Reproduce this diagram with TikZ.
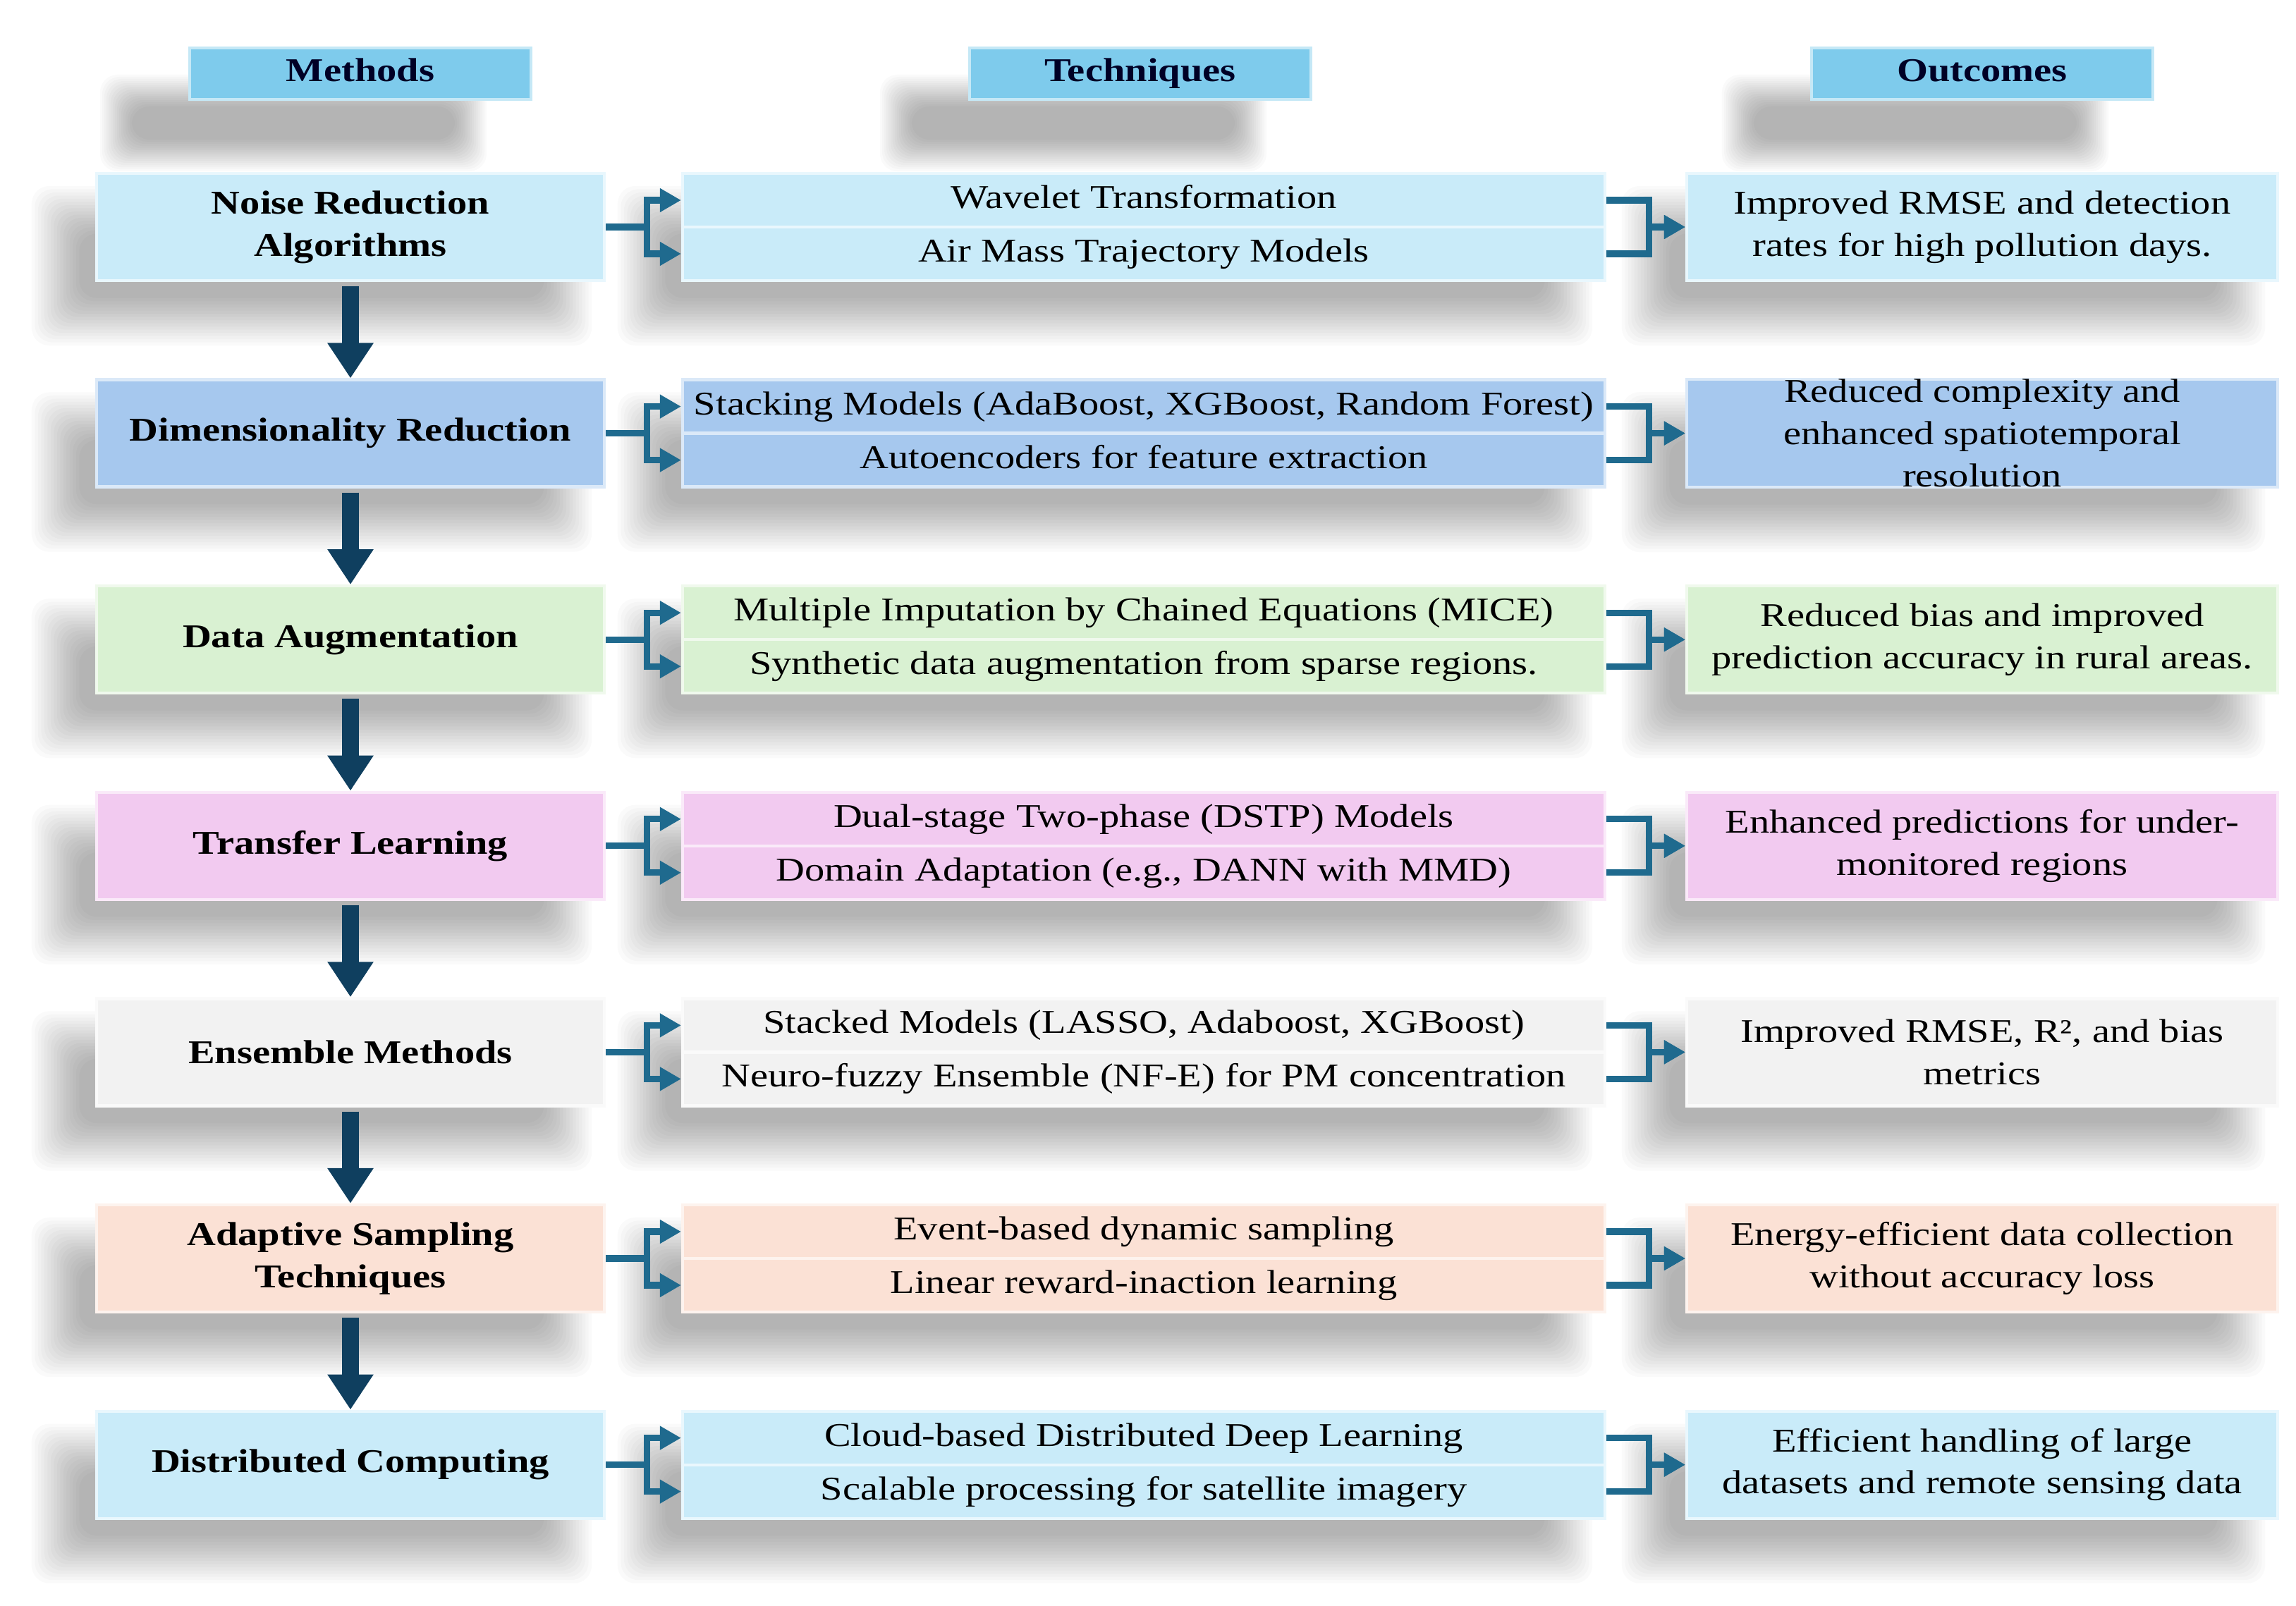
\documentclass[tikz,border=0pt]{standalone}
\usepackage{fontspec}
\setmainfont{Liberation Serif}[FakeStretch=1.2]
\usepackage{tikz}
\usetikzlibrary{arrows.meta}
\usetikzlibrary{backgrounds}

\definecolor{headblue}{HTML}{7ECBEC}
\definecolor{rowblue}{HTML}{C9EBF9}
\definecolor{rowmid}{HTML}{A6C8EE}
\definecolor{rowgreen}{HTML}{D9F1D2}
\definecolor{rowpink}{HTML}{F2CAF0}
\definecolor{rowgray}{HTML}{F2F2F2}
\definecolor{rowpeach}{HTML}{FBE1D5}
\definecolor{flownavy}{HTML}{0F3F5F}
\definecolor{linkblue}{HTML}{1F6A8E}

\tikzset{
    headbox/.style={fill=headblue, draw=headblue!45!white, line width=1.2pt, minimum width=4.84cm, minimum height=0.73cm, inner sep=0pt,
        text height=0.33cm, text depth=0.1cm, font=\fontsize{13.4}{17}\selectfont\bfseries, text=black!85!blue},
    methodbox/.style={fill=#1, draw=#1!40!white, line width=1.2pt, minimum width=7.2cm, minimum height=1.52cm, inner sep=0pt,
        align=center, font=\fontsize{13.4}{17}\selectfont\bfseries},
    techbox/.style={fill=#1, draw=#1!40!white, line width=1.2pt, minimum width=13.08cm, minimum height=0.76cm, inner sep=0pt,
        text height=0.33cm, text depth=0.1cm, font=\fontsize{13.4}{17}\selectfont},
    outbox/.style={fill=#1, draw=#1!40!white, line width=1.2pt, minimum width=8.38cm, minimum height=1.52cm, inner sep=0pt,
        align=center, font=\fontsize{13.4}{17}\selectfont},
    shadowlayer/.style={fill=black, opacity=0.021, rounded corners=0.25cm},
    link/.style={draw=linkblue, line width=2.6pt, -{Triangle[width=0.32cm,length=0.3cm]}},
    flow/.style={draw=flownavy, line width=0.24cm, -{Triangle[width=0.62cm,length=0.5cm]}, shorten <=0.06cm},
}

\begin{document}
\begin{tikzpicture}
        \useasboundingbox (0,0) rectangle (32.56,-22.78);

        % column headers
        \node[headbox] (hmeth) at (5.11,-1.045) {Methods};
        \node[headbox] (htech) at (16.17,-1.045) {Techniques};
        \node[headbox] (hout) at (28.11,-1.045) {Outcomes};

        % methods
        \node[methodbox=rowblue] (m1) at (4.97,-3.22) {Noise Reduction\\Algorithms};
        \node[methodbox=rowmid] (m2) at (4.97,-6.146) {Dimensionality Reduction};
        \node[methodbox=rowgreen] (m3) at (4.97,-9.072) {Data Augmentation};
        \node[methodbox=rowpink] (m4) at (4.97,-11.998) {Transfer Learning};
        \node[methodbox=rowgray] (m5) at (4.97,-14.924) {Ensemble Methods};
        \node[methodbox=rowpeach] (m6) at (4.97,-17.85) {Adaptive Sampling\\Techniques};
        \node[methodbox=rowblue] (m7) at (4.97,-20.776) {Distributed Computing};

        % techniques
        \node[techbox=rowblue] (t1a) at (16.22,-2.84) {Wavelet Transformation};
        \node[techbox=rowblue] (t1b) at (16.22,-3.60) {Air Mass Trajectory Models};
        \node[techbox=rowmid] (t2a) at (16.22,-5.766) {Stacking Models (AdaBoost, XGBoost, Random Forest)};
        \node[techbox=rowmid] (t2b) at (16.22,-6.526) {Autoencoders for feature extraction};
        \node[techbox=rowgreen] (t3a) at (16.22,-8.692) {Multiple Imputation by Chained Equations (MICE)};
        \node[techbox=rowgreen] (t3b) at (16.22,-9.452) {Synthetic data augmentation from sparse regions.};
        \node[techbox=rowpink] (t4a) at (16.22,-11.618) {Dual-stage Two-phase (DSTP) Models};
        \node[techbox=rowpink] (t4b) at (16.22,-12.378) {Domain Adaptation (e.g., DANN with MMD)};
        \node[techbox=rowgray] (t5a) at (16.22,-14.544) {Stacked Models (LASSO, Adaboost, XGBoost)};
        \node[techbox=rowgray] (t5b) at (16.22,-15.304) {Neuro-fuzzy Ensemble (NF-E) for PM concentration};
        \node[techbox=rowpeach] (t6a) at (16.22,-17.47) {Event-based dynamic sampling};
        \node[techbox=rowpeach] (t6b) at (16.22,-18.23) {Linear reward-inaction learning};
        \node[techbox=rowblue] (t7a) at (16.22,-20.396) {Cloud-based Distributed Deep Learning};
        \node[techbox=rowblue] (t7b) at (16.22,-21.156) {Scalable processing for satellite imagery};

        % outcomes
        \node[outbox=rowblue] (o1) at (28.11,-3.22) {Improved RMSE and detection\\rates for high pollution days.};
        \node[outbox=rowmid] (o2) at (28.11,-6.146) {Reduced complexity and\\enhanced spatiotemporal\\resolution};
        \node[outbox=rowgreen] (o3) at (28.11,-9.072) {Reduced bias and improved\\prediction accuracy in rural areas.};
        \node[outbox=rowpink] (o4) at (28.11,-11.998) {Enhanced predictions for under-\\monitored regions};
        \node[outbox=rowgray] (o5) at (28.11,-14.924) {Improved RMSE, R², and bias\\metrics};
        \node[outbox=rowpeach] (o6) at (28.11,-17.85) {Energy-efficient data collection\\without accuracy loss};
        \node[outbox=rowblue] (o7) at (28.11,-20.776) {Efficient handling of large\\datasets and remote sensing data};

        % soft shadows behind the boxes
        \begin{scope}[on background layer]
            \fill[white] (0,0) rectangle (32.56,-22.78);
            \foreach \lo/\up in {hmeth/hmeth, htech/htech, hout/hout} {
                \foreach \k in {0,...,15} {
                    \fill[shadowlayer]
                        ([xshift={(-1.25+0.03*\k)*1cm}, yshift={(-1.0+0.03*\k)*1cm}]\lo.south west) rectangle
                        ([xshift={(-0.65-0.03*\k)*1cm}, yshift={(-0.4-0.03*\k)*1cm}]\up.north east);
                }
            }
            \foreach \lo/\up in {m1/m1, m2/m2, m3/m3, m4/m4, m5/m5, m6/m6, m7/m7,
                                 t1b/t1a, t2b/t2a, t3b/t3a, t4b/t4a, t5b/t5a, t6b/t6a, t7b/t7a,
                                 o1/o1, o2/o2, o3/o3, o4/o4, o5/o5, o6/o6, o7/o7} {
                \foreach \k in {0,...,15} {
                    \fill[shadowlayer]
                        ([xshift={(-0.9+0.045*\k)*1cm}, yshift={(-0.9+0.045*\k)*1cm}]\lo.south west) rectangle
                        ([xshift={(-0.2-0.045*\k)*1cm}, yshift={(-0.2-0.045*\k)*1cm}]\up.north east);
                }
            }
        \end{scope}

        % method to method
        \draw[flow] (m1.south) -- (m2.north);
        \draw[flow] (m2.south) -- (m3.north);
        \draw[flow] (m3.south) -- (m4.north);
        \draw[flow] (m4.south) -- (m5.north);
        \draw[flow] (m5.south) -- (m6.north);
        \draw[flow] (m6.south) -- (m7.north);

        % method to techniques
        \draw[link] (m1.east) -- ++(0.58,0) |- (t1a.west);
        \draw[link] (m1.east) -- ++(0.58,0) |- (t1b.west);
        \draw[link] (m2.east) -- ++(0.58,0) |- (t2a.west);
        \draw[link] (m2.east) -- ++(0.58,0) |- (t2b.west);
        \draw[link] (m3.east) -- ++(0.58,0) |- (t3a.west);
        \draw[link] (m3.east) -- ++(0.58,0) |- (t3b.west);
        \draw[link] (m4.east) -- ++(0.58,0) |- (t4a.west);
        \draw[link] (m4.east) -- ++(0.58,0) |- (t4b.west);
        \draw[link] (m5.east) -- ++(0.58,0) |- (t5a.west);
        \draw[link] (m5.east) -- ++(0.58,0) |- (t5b.west);
        \draw[link] (m6.east) -- ++(0.58,0) |- (t6a.west);
        \draw[link] (m6.east) -- ++(0.58,0) |- (t6b.west);
        \draw[link] (m7.east) -- ++(0.58,0) |- (t7a.west);
        \draw[link] (m7.east) -- ++(0.58,0) |- (t7b.west);

        % techniques to outcome
        \draw[link] (t1a.east) -- ++(0.6,0) |- (o1.west);
        \draw[link] (t1b.east) -- ++(0.6,0) |- (o1.west);
        \draw[link] (t2a.east) -- ++(0.6,0) |- (o2.west);
        \draw[link] (t2b.east) -- ++(0.6,0) |- (o2.west);
        \draw[link] (t3a.east) -- ++(0.6,0) |- (o3.west);
        \draw[link] (t3b.east) -- ++(0.6,0) |- (o3.west);
        \draw[link] (t4a.east) -- ++(0.6,0) |- (o4.west);
        \draw[link] (t4b.east) -- ++(0.6,0) |- (o4.west);
        \draw[link] (t5a.east) -- ++(0.6,0) |- (o5.west);
        \draw[link] (t5b.east) -- ++(0.6,0) |- (o5.west);
        \draw[link] (t6a.east) -- ++(0.6,0) |- (o6.west);
        \draw[link] (t6b.east) -- ++(0.6,0) |- (o6.west);
        \draw[link] (t7a.east) -- ++(0.6,0) |- (o7.west);
        \draw[link] (t7b.east) -- ++(0.6,0) |- (o7.west);
    \end{tikzpicture}
\end{document}
